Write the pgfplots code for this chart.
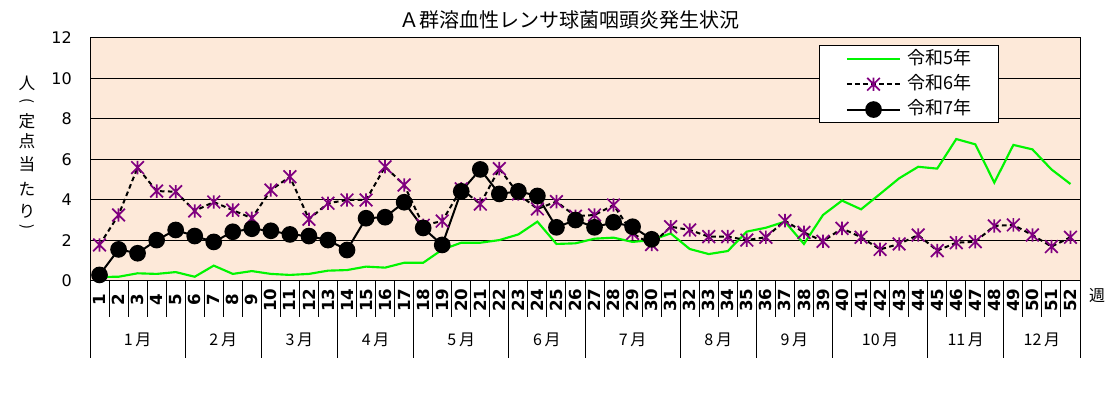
\documentclass[border=0pt]{standalone}
\usepackage{pgfplots}
\pgfplotsset{compat=1.18}
\usepackage{fontspec}
\newfontfamily\jp{Noto Sans CJK JP}
\newfontfamily\dv{DejaVu Sans}
\definecolor{bg}{RGB}{253,233,217}
\definecolor{lime}{RGB}{0,245,0}
\definecolor{purp}{RGB}{128,0,128}
\pgfdeclareplotmark{xstar}{%
  \pgfpathmoveto{\pgfpoint{0pt}{\pgfplotmarksize}}%
  \pgfpathlineto{\pgfpoint{0pt}{-\pgfplotmarksize}}%
  \pgfpathmoveto{\pgfpoint{-0.95\pgfplotmarksize}{0.95\pgfplotmarksize}}%
  \pgfpathlineto{\pgfpoint{0.95\pgfplotmarksize}{-0.95\pgfplotmarksize}}%
  \pgfpathmoveto{\pgfpoint{-0.95\pgfplotmarksize}{-0.95\pgfplotmarksize}}%
  \pgfpathlineto{\pgfpoint{0.95\pgfplotmarksize}{0.95\pgfplotmarksize}}%
  \pgfusepathqstroke}

\pgfplotstableread{
w v
1 0.20
2 0.21
3 0.38
4 0.35
5 0.44
6 0.21
7 0.76
8 0.35
9 0.49
10 0.35
11 0.30
12 0.35
13 0.51
14 0.54
15 0.71
16 0.66
17 0.90
18 0.90
19 1.55
20 1.89
21 1.89
22 2.02
23 2.30
24 2.93
25 1.83
26 1.86
27 2.09
28 2.14
29 1.93
30 2.02
31 2.35
32 1.58
33 1.33
34 1.48
35 2.44
36 2.63
37 2.93
38 1.83
39 3.26
40 3.97
41 3.54
42 4.30
43 5.07
44 5.64
45 5.55
46 7.01
47 6.75
48 4.86
49 6.72
50 6.50
51 5.51
52 4.79
}\rfive

\pgfplotstableread{
w v
1 1.78
2 3.26
3 5.60
4 4.44
5 4.41
6 3.46
7 3.90
8 3.50
9 3.10
10 4.49
11 5.15
12 3.05
13 3.84
14 4.00
15 4.00
16 5.64
17 4.74
18 2.75
19 2.96
20 4.55
21 3.80
22 5.55
23 4.30
24 3.56
25 3.92
26 3.20
27 3.26
28 3.75
29 2.35
30 1.80
31 2.68
32 2.52
33 2.19
34 2.19
35 2.02
36 2.16
37 2.98
38 2.40
39 1.96
40 2.60
41 2.16
42 1.56
43 1.83
44 2.27
45 1.50
46 1.89
47 1.94
48 2.72
49 2.77
50 2.27
51 1.70
52 2.16
}\rsix

\pgfplotstableread{
w v
1 0.30
2 1.56
3 1.37
4 2.02
5 2.52
6 2.22
7 1.93
8 2.43
9 2.58
10 2.48
11 2.30
12 2.22
13 2.02
14 1.53
15 3.10
16 3.15
17 3.89
18 2.62
19 1.78
20 4.43
21 5.51
22 4.30
23 4.43
24 4.20
25 2.65
26 3.01
27 2.65
28 2.90
29 2.68
30 2.06
}\rseven

\begin{document}
\begin{tikzpicture}
\path (0,0) rectangle (835.5pt,297pt);
\begin{axis}[
  at={(67.5pt,86.25pt)}, anchor=south west,
  scale only axis, width=742.5pt, height=182.25pt,
  xmin=0.5, xmax=52.5, ymin=0, ymax=12,
  ytick={0,2,...,12}, xtick=\empty,
  ymajorgrids, grid style={black, line width=0.75pt},
  axis line style={black, line width=0.75pt},
  axis background/.style={fill=bg},
  major tick length=0pt,
  /pgf/number format/assume math mode=true,
  yticklabel style={font=\dv\fontsize{12}{14}\selectfont, inner sep=0pt, xshift=-13.5pt},
  clip=false,
  legend style={at={(rel axis cs:0.736,0.971)}, anchor=north west,
    draw=black, line width=0.75pt, fill=white,
    font=\jp\fontsize{13.5}{16}\selectfont,
    inner xsep=20pt, inner ysep=3pt, row sep=5pt,
    nodes={inner sep=0pt, text height=11pt, text depth=3pt}},
  legend cell align=left,
  legend image code/.code={\draw[mark repeat=2, mark phase=2, #1] plot coordinates {(0pt,0pt)(20pt,0pt)(40pt,0pt)};},
]
\addplot[lime, line width=1.6pt, mark=none] table[x=w,y=v] {\rfive};
\addlegendentry{\hspace{5pt}令和5年}
\addplot[black, line width=1.5pt, dash pattern=on 3.5pt off 2.5pt, mark=xstar, mark size=5pt,
  mark options={purp, solid, line width=1.3pt}] table[x=w,y=v] {\rsix};
\addlegendentry{\hspace{5pt}令和6年}
\addplot[black, line width=1.5pt, mark=*, mark size=5.5pt, mark options={fill=black}] table[x=w,y=v] {\rseven};
\addlegendentry{\hspace{5pt}令和7年}

\pgfplotsinvokeforeach{1,...,51}{\draw[black, line width=0.75pt] (axis cs:#1+0.5,0) -- (axis cs:#1+0.5,-1.78);}
\pgfplotsinvokeforeach{0.5,5.5,9.5,13.5,17.5,22.5,26.5,31.5,35.5,39.5,44.5,48.5,52.5}{\draw[black, line width=0.75pt] (axis cs:#1,0) -- (axis cs:#1,-3.80);}
\pgfplotsinvokeforeach{1,...,52}{\node[rotate=90, font=\dv\bfseries\fontsize{12.5}{14}\selectfont, inner sep=0pt] at (axis cs:#1,-0.94) {#1};}
\node[font=\jp\fontsize{12}{14}\selectfont, inner sep=0pt] at (axis cs:3,-2.91) {1\,月};
\node[font=\jp\fontsize{12}{14}\selectfont, inner sep=0pt] at (axis cs:7.5,-2.91) {2\,月};
\node[font=\jp\fontsize{12}{14}\selectfont, inner sep=0pt] at (axis cs:11.5,-2.91) {3\,月};
\node[font=\jp\fontsize{12}{14}\selectfont, inner sep=0pt] at (axis cs:15.5,-2.91) {4\,月};
\node[font=\jp\fontsize{12}{14}\selectfont, inner sep=0pt] at (axis cs:20,-2.91) {5\,月};
\node[font=\jp\fontsize{12}{14}\selectfont, inner sep=0pt] at (axis cs:24.5,-2.91) {6\,月};
\node[font=\jp\fontsize{12}{14}\selectfont, inner sep=0pt] at (axis cs:29,-2.91) {7\,月};
\node[font=\jp\fontsize{12}{14}\selectfont, inner sep=0pt] at (axis cs:33.5,-2.91) {8\,月};
\node[font=\jp\fontsize{12}{14}\selectfont, inner sep=0pt] at (axis cs:37.5,-2.91) {9\,月};
\node[font=\jp\fontsize{12}{14}\selectfont, inner sep=0pt] at (axis cs:42,-2.91) {10\,月};
\node[font=\jp\fontsize{12}{14}\selectfont, inner sep=0pt] at (axis cs:46.5,-2.91) {11\,月};
\node[font=\jp\fontsize{12}{14}\selectfont, inner sep=0pt] at (axis cs:50.5,-2.91) {12\,月};
\node[font=\jp\fontsize{12}{14}\selectfont, inner sep=0pt] at (axis cs:53.4,-0.74) {週};
\node[font=\jp\fontsize{15}{18}\selectfont, inner sep=0pt] at (axis cs:25.7,12.89) {Ａ群溶血性レンサ球菌咽頭炎発生状況};
\node[font=\jp\fontsize{12.5}{14}\selectfont, inner sep=0pt] at (axis cs:-2.81,9.78) {人};
\node[font=\jp\fontsize{11}{12}\selectfont, inner sep=0pt, rotate=-90] at (axis cs:-2.81,8.89) {(};
\node[font=\jp\fontsize{12.5}{14}\selectfont, inner sep=0pt] at (axis cs:-2.81,7.90) {定};
\node[font=\jp\fontsize{12.5}{14}\selectfont, inner sep=0pt] at (axis cs:-2.81,6.91) {点};
\node[font=\jp\fontsize{12.5}{14}\selectfont, inner sep=0pt] at (axis cs:-2.81,5.78) {当};
\node[font=\jp\fontsize{12.5}{14}\selectfont, inner sep=0pt] at (axis cs:-2.81,4.54) {た};
\node[font=\jp\fontsize{12.5}{14}\selectfont, inner sep=0pt] at (axis cs:-2.81,3.46) {り};
\node[font=\jp\fontsize{11}{12}\selectfont, inner sep=0pt, rotate=-90] at (axis cs:-2.81,2.67) {)};
\end{axis}
\end{tikzpicture}
\end{document}
